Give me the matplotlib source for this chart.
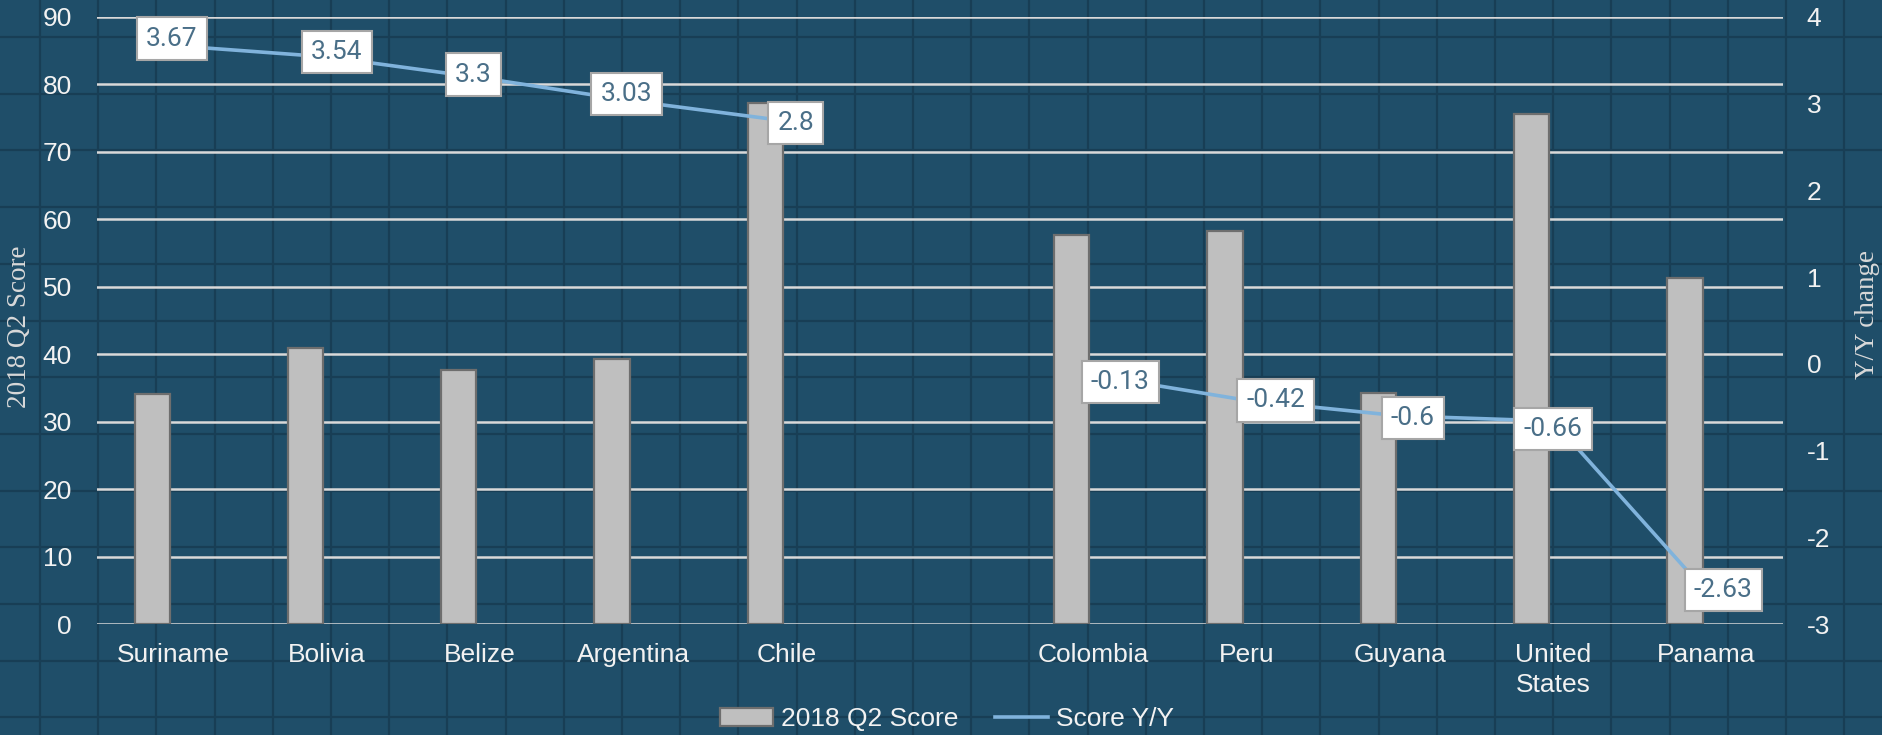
""" Score bars with the year-over-year change line on a second axis """

import numpy as np
import matplotlib.pyplot as plt
from matplotlib.lines import Line2D

countries = ["Suriname", "Bolivia", "Belize", "Argentina", "Chile", "",
             "Colombia", "Peru", "Guyana", "United\nStates", "Panama"]
score_2018_q2 = [34.1, 40.9, 37.7, 39.3, 77.3, np.nan,
                 57.7, 58.3, 34.2, 75.6, 51.3]
score_yy = [3.67, 3.54, 3.3, 3.03, 2.8, np.nan,
            -0.13, -0.42, -0.6, -0.66, -2.63]
yy_labels = ["3.67", "3.54", "3.3", "3.03", "2.8", "",
             "-0.13", "-0.42", "-0.6", "-0.66", "-2.63"]

# where each data label box sits relative to its point (pixels)
label_offsets = [(-2, 7), (10, 5), (-7, 3), (-7, 7), (9, -2), (0, 0),
                 (27, -7), (29, 0), (13, -2), (0, -8), (17, 2)]

BG = "#1f4e69"
PATTERN = "#183e55"
WHITE = "#f2f2f2"
W, H = 1883, 735
FS = 19

plt.rcParams["axes.unicode_minus"] = False
plt.rcParams["font.family"] = "Liberation Sans"

fig = plt.figure(figsize=(W / 100, H / 100), dpi=100, facecolor=BG)

# background tile pattern
for px in np.arange(40, W, 58.2):
    fig.add_artist(Line2D([px / W, px / W], [0, 1], transform=fig.transFigure,
                          color=PATTERN, lw=1.6, zorder=-10))
for py in np.arange(37, H, 56.7):
    fig.add_artist(Line2D([0, 1], [1 - py / H, 1 - py / H], transform=fig.transFigure,
                          color=PATTERN, lw=1.6, zorder=-10))

ax = fig.add_axes([97 / W, 1 - 624 / H, 1686 / W, 607 / H])
ax.set_facecolor("none")
x = np.arange(len(countries))

bars = ax.bar(x - 0.14, score_2018_q2, width=0.23, color="#bfbfbf",
              edgecolor="#6e6e6e", linewidth=1.6, zorder=3, label="2018 Q2 Score")
ax.set_ylim(0, 90)
ax.set_yticks(range(0, 91, 10))
ax.set_xlim(-0.5, len(countries) - 0.5)
ax.set_xticks(x)
ax.set_xticklabels(countries, fontsize=FS, color=WHITE, linespacing=1.3)
ax.yaxis.grid(True, color="#d9d9d9", lw=1.8, zorder=0)
ax.set_axisbelow(True)
for s in ax.spines.values():
    s.set_visible(False)
ax.tick_params(axis="x", length=0, pad=14)
ax.tick_params(axis="y", length=0, pad=18, labelsize=FS, labelcolor=WHITE)
ax.set_ylabel("2018 Q2 Score", fontsize=19.5, color="#d9d9d9", family="Liberation Serif",
              va="center")
ax.yaxis.set_label_coords(-0.046, 0.49)

ax2 = ax.twinx()
ax2.set_facecolor("none")
line, = ax2.plot(x, score_yy, color="#80b3dc", lw=2.6, zorder=4, label="Score Y/Y")
ax2.set_ylim(-3, 4)
ax2.set_yticks(range(-3, 5))
for s in ax2.spines.values():
    s.set_visible(False)
ax2.tick_params(axis="y", length=0, pad=17, labelsize=FS, labelcolor=WHITE)
ax2.set_ylabel("Y/Y change", fontsize=19.5, color="#d9d9d9", family="Liberation Serif",
               va="center")
ax2.yaxis.set_label_coords(1.0504, 0.51)

for xi, v, lab, off in zip(x, score_yy, yy_labels, label_offsets):
    if np.isnan(v):
        continue
    ax2.annotate(lab, (xi, v), xytext=off, textcoords="offset pixels",
                 ha="center", va="center", fontsize=FS, color="#4a6f88",
                 family="Roboto", zorder=6,
                 bbox=dict(boxstyle="square,pad=0.35", fc="white", ec="#a6a6a6", lw=1.5))

leg = fig.legend(handles=[bars, line], loc="center", bbox_to_anchor=(0.503, 1 - 719 / H),
                 ncol=2, frameon=False, fontsize=FS, handlelength=2.0,
                 handletextpad=0.3, columnspacing=1.4)
for t in leg.get_texts():
    t.set_color(WHITE)

fig.savefig("out.png", dpi=100, facecolor=BG)
